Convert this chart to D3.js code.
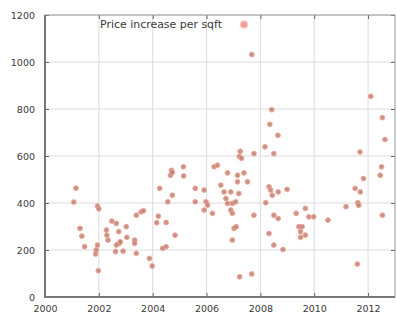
<!DOCTYPE html>
<html>
<head>
<meta charset="utf-8">
<script src="https://cdn.jsdelivr.net/npm/d3@7"></script>
<style>
  body { margin: 0; background: #fff; }
  svg { display: block; font-family: "DejaVu Sans", sans-serif; }
</style>
</head>
<body>
<div id="chart"></div>
<script>
// Sale year and price increase per sqft
const years = [
  2001.15, 2001.07, 2001.95, 2002.0, 2001.3, 2001.37, 2001.47, 2001.95, 2001.9, 2001.88,
  2001.98, 2002.48, 2002.28, 2002.3, 2002.34, 2002.65, 2002.74, 2002.75, 2002.8, 2002.65,
  2002.62, 2002.9, 2003.02, 2003.04, 2003.33, 2003.33, 2003.39, 2003.39, 2003.57, 2003.66,
  2003.88, 2003.98, 2004.21, 2004.15, 2004.26, 2004.5, 2004.37, 2004.5, 2004.83, 2004.56,
  2004.73, 2004.7, 2004.66, 2004.73, 2005.14, 2005.15, 2005.58, 2005.58, 2007.25, 2007.22,
  2007.3, 2007.76, 2008.5, 2011.7, 2006.28, 2006.41, 2006.78, 2007.15, 2007.39, 2007.15,
  2007.52, 2005.91, 2006.53, 2006.65, 2006.9, 2005.98, 2006.04, 2005.91, 2006.22, 2006.72,
  2006.78, 2006.96, 2006.9, 2007.08, 2007.2, 2006.96, 2007.76, 2007.02, 2007.1, 2006.96,
  2007.23, 2007.68, 2008.2, 2008.32, 2008.38, 2008.44, 2008.66, 2008.99, 2008.5, 2008.66,
  2008.32, 2008.5, 2008.84, 2009.33, 2009.67, 2009.8, 2009.98, 2009.43, 2009.55, 2009.49,
  2009.49, 2009.67, 2010.51, 2011.18, 2011.52, 2011.71, 2011.62, 2011.65, 2011.6, 2011.83,
  2012.5, 2012.45, 2012.53, 2007.68, 2008.42, 2008.35, 2008.65, 2008.17, 2012.1, 2012.53,
  2012.63
];
const prices = [
  463, 404, 387, 375, 292, 259, 214, 221, 200, 183,
  112, 323, 285, 263, 242, 313, 278, 228, 235, 221,
  193, 195, 299, 254, 242, 228, 186, 348, 362, 367,
  164, 132, 344, 316, 462, 317, 207, 214, 263, 405,
  433, 539, 518, 530, 554, 515, 462, 405, 620, 598,
  590, 610, 610, 617, 554, 561, 528, 518, 528, 490,
  490, 455, 476, 447, 447, 405, 391, 370, 356, 419,
  398, 398, 370, 405, 440, 356, 348, 292, 299, 242,
  86, 98, 401, 469, 455, 433, 447, 458, 348, 334,
  270, 221, 202, 356, 377, 341, 341, 299, 299, 278,
  254, 263, 327, 384, 462, 447, 401, 390, 140, 504,
  554, 518, 348, 1032, 797, 735, 688, 639, 854, 763,
  670
];
const xTicks = [2000, 2002, 2004, 2006, 2008, 2010, 2012];
const yTicks = [0, 200, 400, 600, 800, 1000, 1200];
const seriesName = "Price increase per sqft";

const W = 397, H = 317;
const margin = { top: 15, right: 2, bottom: 20, left: 45 };

const svg = d3.select("#chart").append("svg")
  .attr("width", W)
  .attr("height", H);

const x = d3.scaleLinear().domain([2000, 2013]).range([margin.left, W - margin.right]);
const y = d3.scaleLinear().domain([0, 1200]).range([H - margin.bottom, margin.top]);

// grid
const grid = svg.append("g").attr("stroke", "#dcdcdc").attr("stroke-width", 1);
grid.selectAll(".gx").data(xTicks.slice(1)).enter().append("line")
  .attr("x1", d => x(d)).attr("x2", d => x(d))
  .attr("y1", y(0)).attr("y2", y(1200));
grid.selectAll(".gy").data(yTicks.slice(1)).enter().append("line")
  .attr("x1", x(2000)).attr("x2", x(2013))
  .attr("y1", d => y(d)).attr("y2", d => y(d));

// axes (gnuplot style: ticks inside, mirrored)
svg.append("g")
  .attr("transform", `translate(0,${y(0)})`)
  .call(d3.axisBottom(x).tickValues(xTicks).tickFormat(d3.format("d")).tickSize(-4).tickPadding(8))
  .call(g => g.select(".domain").remove());
svg.append("g")
  .attr("transform", `translate(${x(2000)},0)`)
  .call(d3.axisLeft(y).tickValues(yTicks).tickFormat(d3.format("d")).tickSize(-4).tickPadding(10))
  .call(g => g.select(".domain").remove());
svg.append("g")
  .attr("transform", `translate(0,${y(1200)})`)
  .call(d3.axisTop(x).tickValues(xTicks).tickFormat("").tickSize(-4))
  .call(g => g.select(".domain").remove());
svg.append("g")
  .attr("transform", `translate(${x(2013)},0)`)
  .call(d3.axisRight(y).tickValues(yTicks).tickFormat("").tickSize(-4))
  .call(g => g.select(".domain").remove());

svg.selectAll(".tick text")
  .attr("fill", "#3a3a3a")
  .style("font-family", "'DejaVu Sans', sans-serif")
  .style("font-size", "9.5px");
svg.selectAll(".tick line").attr("stroke", "#666");

// border
svg.append("rect")
  .attr("x", x(2000)).attr("y", y(1200))
  .attr("width", x(2013) - x(2000)).attr("height", y(0) - y(1200))
  .attr("fill", "none").attr("stroke", "#999").attr("stroke-width", 1);
svg.append("path")
  .attr("d", `M${x(2000)},${y(1200)}V${y(0)}H${x(2013)}`)
  .attr("fill", "none").attr("stroke", "#777").attr("stroke-width", 2);

// points
const pts = years.map((yr, i) => ({ yr, v: prices[i] }));
svg.append("g").selectAll("circle").data(pts).enter().append("circle")
  .attr("cx", d => x(d.yr))
  .attr("cy", d => y(d.v))
  .attr("r", 2.4)
  .attr("fill", "#b4786f")
  .attr("fill-opacity", 0.8)
  .attr("stroke", "#f2a492")
  .attr("stroke-width", 1);

// legend
svg.append("text")
  .attr("x", 100).attr("y", 27.5)
  .attr("fill", "#3a3a3a")
  .style("font-size", "10.5px")
  .attr("textLength", 122)
  .attr("lengthAdjust", "spacingAndGlyphs")
  .text(seriesName);
svg.append("circle")
  .attr("cx", 244).attr("cy", 24.5).attr("r", 3.5)
  .attr("fill", "#ec9c94").attr("stroke", "#f8c4bc").attr("stroke-width", 1.5);
</script>
</body>
</html>
